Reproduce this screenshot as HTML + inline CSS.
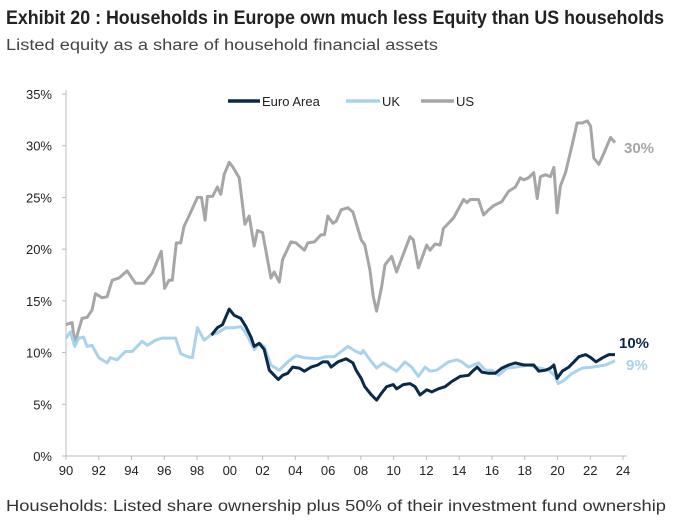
<!DOCTYPE html>
<html><head><meta charset="utf-8"><style>
body{margin:0;width:680px;height:520px;background:#fff;font-family:"Liberation Sans",sans-serif;overflow:hidden}
svg{position:absolute;left:0;top:0}
</style></head><body>
<svg width="680" height="520" id="c">
<text x="6" y="24" font-weight="bold" font-size="19" fill="#222" textLength="658" lengthAdjust="spacingAndGlyphs">Exhibit 20 : Households in Europe own much less Equity than US households</text>
<text x="6" y="50" font-size="15.5" fill="#444" textLength="432" lengthAdjust="spacingAndGlyphs">Listed equity as a share of household financial assets</text>
<text x="6" y="511" font-size="15.5" fill="#333" textLength="660" lengthAdjust="spacingAndGlyphs">Households: Listed share ownership plus 50% of their investment fund ownership</text>
<g id="axes"></g><g id="lines"></g>
<g font-size="13" fill="#222">
<line x1="228" y1="101" x2="260" y2="101" stroke="#0b2a4a" stroke-width="3.5"/><text x="262" y="106">Euro Area</text>
<line x1="346" y1="101" x2="380" y2="101" stroke="#a9d3ec" stroke-width="3.5"/><text x="382" y="106">UK</text>
<line x1="421" y1="101" x2="454" y2="101" stroke="#a6a6a6" stroke-width="3.5"/><text x="456" y="106">US</text>
</g>
<text x="624" y="153" font-size="15" font-weight="bold" fill="#a6a6a6">30%</text>
<text x="619" y="348" font-size="15" font-weight="bold" fill="#0b2a4a">10%</text>
<text x="626" y="370" font-size="15" font-weight="bold" fill="#a9d3ec">9%</text>
</svg>
<script>
const yTicks=[0,5,10,15,20,25,30,35];
const xTicks=[1990,1992,1994,1996,1998,2000,2002,2004,2006,2008,2010,2012,2014,2016,2018,2020,2022,2024];
const usYears=[1990,1990.37,1990.53,1990.98,1991.29,1991.59,1991.8,1992.2,1992.51,1992.82,1993.22,1993.73,1994.24,1994.76,1995.27,1995.82,1996.02,1996.29,1996.49,1996.73,1997,1997.2,1997.51,1998.02,1998.27,1998.49,1998.63,1998.94,1999.24,1999.45,1999.65,1999.96,2000.16,2000.57,2000.92,2001.18,2001.49,2001.69,2002,2002.51,2002.71,2003.02,2003.22,2003.73,2004.04,2004.55,2004.76,2005.16,2005.57,2005.78,2005.98,2006.29,2006.49,2006.8,2007.2,2007.51,2008.02,2008.24,2008.55,2008.76,2008.96,2009.27,2009.47,2009.88,2010.18,2011,2011.2,2011.51,2012.02,2012.22,2012.53,2012.84,2013.04,2013.65,2014.27,2014.47,2014.67,2015.18,2015.49,2015.8,2016.1,2016.61,2017.02,2017.43,2017.73,2017.94,2018.24,2018.55,2018.76,2018.96,2019.27,2019.57,2019.78,2019.98,2020.18,2020.49,2020.9,2021.2,2021.51,2021.82,2022.02,2022.22,2022.53,2022.84,2023.24,2023.51];
const usValues=[12.7,12.9,10.9,13.3,13.4,14.1,15.7,15.3,15.4,17.0,17.2,17.9,16.7,16.7,17.7,19.8,16.2,17.0,17.0,20.6,20.6,22.2,23.2,25.0,25.0,22.8,25.1,25.1,26.0,25.3,27.2,28.4,28.0,26.9,22.4,23.2,20.3,21.8,21.6,17.2,17.8,16.8,19.0,20.7,20.6,19.9,20.6,20.7,21.4,21.4,23.2,22.5,22.7,23.8,24.0,23.6,20.9,20.4,18.0,15.4,14.0,16.4,18.5,19.3,17.8,21.2,20.9,18.2,20.4,19.9,20.5,20.4,22.0,23.0,24.8,24.5,24.8,24.8,23.3,23.8,24.2,24.6,25.6,26.0,26.9,26.7,26.9,27.4,24.9,27.0,27.2,27.0,27.9,23.5,26.1,27.4,30.1,32.2,32.2,32.4,31.9,28.8,28.2,29.3,30.8,30.3];
const euroYears=[1998.88,1999.24,1999.55,1999.96,2000.27,2000.67,2000.98,2001.29,2001.49,2001.8,2002.1,2002.41,2002.71,2002.96,2003.22,2003.53,2003.84,2004.24,2004.55,2004.96,2005.37,2005.67,2005.98,2006.18,2006.59,2007.1,2007.51,2007.71,2008.02,2008.24,2008.65,2008.96,2009.27,2009.57,2009.98,2010.18,2010.59,2011,2011.31,2011.61,2012.02,2012.33,2012.73,2013.14,2013.55,2014.06,2014.57,2014.88,2015.1,2015.39,2015.8,2016.2,2016.61,2017.02,2017.43,2017.94,2018.55,2018.86,2019.27,2019.57,2019.78,2019.98,2020.29,2020.69,2021,2021.31,2021.73,2022.04,2022.35,2022.76,2023.14,2023.51];
const euroValues=[11.7,12.4,12.7,14.2,13.6,13.3,12.5,11.5,10.6,10.9,10.3,8.3,7.8,7.4,7.8,8.0,8.6,8.5,8.2,8.6,8.8,9.1,9.1,8.6,9.1,9.4,9.0,8.3,7.5,6.7,5.9,5.4,6.1,6.7,6.9,6.5,6.9,7.0,6.7,5.9,6.4,6.2,6.5,6.7,7.2,7.7,7.8,8.3,8.6,8.1,8.0,8.0,8.5,8.8,9.0,8.8,8.8,8.2,8.3,8.5,8.8,7.5,8.2,8.6,9.1,9.6,9.8,9.5,9.1,9.5,9.8,9.8];
const ukYears=[1990,1990.27,1990.53,1990.78,1991.08,1991.29,1991.59,1992,1992.51,1992.71,1993.12,1993.63,1994.04,1994.65,1994.96,1995.47,1995.88,1996.69,1997,1997.41,1997.71,1998.02,1998.43,1998.84,1999.24,1999.76,2000.27,2000.67,2000.98,2001.49,2001.8,2002.1,2002.51,2002.71,2003.02,2003.53,2004.04,2004.55,2005.37,2005.88,2006.39,2006.8,2007.2,2007.71,2008.02,2008.14,2008.55,2008.96,2009.37,2009.78,2010.18,2010.69,2011.1,2011.51,2011.92,2012.22,2012.63,2013.35,2013.86,2014.16,2014.57,2015.18,2015.59,2016,2016.41,2016.92,2017.43,2018.24,2018.65,2019.47,2019.88,2020.04,2020.39,2020.9,2021.51,2022.12,2022.94,2023.51];
const ukValues=[11.4,12.0,10.6,11.4,11.5,10.6,10.7,9.5,9.0,9.5,9.3,10.1,10.1,11.1,10.7,11.2,11.4,11.4,9.9,9.6,9.5,12.4,11.2,11.7,11.9,12.4,12.4,12.5,11.9,10.3,10.9,10.6,8.8,8.6,8.3,9.1,9.7,9.5,9.4,9.6,9.6,10.1,10.6,10.1,9.9,10.2,9.3,8.5,9.0,8.6,8.2,9.1,8.6,7.7,8.6,8.2,8.3,9.1,9.3,9.1,8.6,9.0,8.3,8.3,7.8,8.5,8.6,8.8,8.6,8.3,7.7,7.0,7.3,8.0,8.5,8.6,8.8,9.2];

const X0=66,X1=623,Y0=456,Y1=94;
const xs=y=>X0+(y-1990)/(2024-1990)*(X1-X0);
const ys=v=>Y0-v/35*(Y0-Y1);
const NS="http://www.w3.org/2000/svg";
const ax=document.getElementById('axes'),ln=document.getElementById('lines');
function mk(t,a,p){const e=document.createElementNS(NS,t);for(const k in a)e.setAttribute(k,a[k]);p.appendChild(e);return e;}
const yl=mk('line',{x1:X0,y1:Y0,x2:X0,y2:Y1-4,stroke:'#bbb','stroke-width':1},ax);


const xl=mk('line',{x1:X0,y1:Y0,x2:X1+4,y2:Y0,stroke:'#bbb','stroke-width':1},ax);


yTicks.forEach(v=>{
  mk('line',{x1:X0-4,y1:ys(v),x2:X0,y2:ys(v),stroke:'#bbb'},ax);
  const t=mk('text',{x:52,y:ys(v)+5,'text-anchor':'end','font-size':13,fill:'#222'},ax);
  t.textContent=v+'%';
  
  
});
xTicks.forEach(y=>{
  mk('line',{x1:xs(y),y1:Y0,x2:xs(y),y2:Y0+4,stroke:'#bbb'},ax);
  const t=mk('text',{x:xs(y),y:Y0+19,'text-anchor':'middle','font-size':13,fill:'#222'},ax);
  t.textContent=String(y%100).padStart(2,'0');
  
  
});
function series(yrs,vals,col,name){
  const d=yrs.map((y,i)=>(i?'L':'M')+xs(y).toFixed(1)+','+ys(vals[i]).toFixed(1)).join('');
  const p=mk('path',{d:d,fill:'none',stroke:col,'stroke-width':3,'stroke-linejoin':'round'},ln);
  
  
}
series(usYears,usValues,'#a6a6a6','us-line');
series(ukYears,ukValues,'#a9d3ec','uk-line');
series(euroYears,euroValues,'#0b2a4a','euro-area-line');
</script>
</body></html>
